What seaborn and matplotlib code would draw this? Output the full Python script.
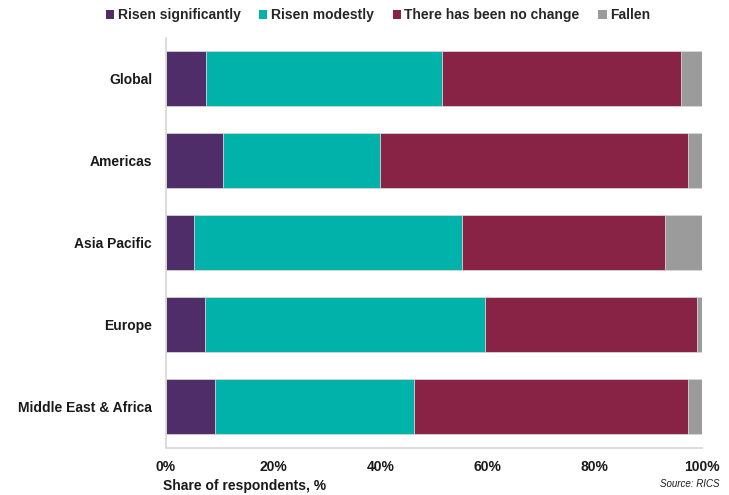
import matplotlib
matplotlib.use("Agg")
import matplotlib.pyplot as plt
from matplotlib.patches import Patch
import numpy as np
import pandas as pd
import seaborn as sns

regions = ["Global", "Americas", "Asia Pacific", "Europe", "Middle East & Africa"]
series_names = ["Risen significantly", "Risen modestly", "There has been no change", "Fallen"]
risen_significantly = [7.5, 10.6, 5.2, 7.3, 9.2]
risen_modestly = [44.0, 29.3, 50.0, 52.3, 37.1]
no_change = [44.6, 57.4, 37.9, 39.5, 51.0]
fallen = [3.9, 2.7, 6.9, 0.9, 2.7]
colors = ["#4F2D69", "#00B2AA", "#882345", "#9B9B9C"]
x_ticks = [0, 20, 40, 60, 80, 100]
x_tick_labels = ["0%", "20%", "40%", "60%", "80%", "100%"]

sns.set_theme(style="white")
plt.rcParams["font.family"] = ["Liberation Sans", "DejaVu Sans"]

df = pd.DataFrame({
    "region": regions,
    series_names[0]: risen_significantly,
    series_names[1]: risen_modestly,
    series_names[2]: no_change,
    series_names[3]: fallen,
})
cum = df[series_names].cumsum(axis=1)

fig = plt.figure(figsize=(7.29, 4.95), dpi=100)
ax = fig.add_axes([166 / 729, 1 - 447.5 / 495, 536 / 729, 410 / 495])

# stacked bars: draw cumulative totals from the longest down
for name, color in reversed(list(zip(series_names, colors))):
    sns.barplot(x=cum[name], y=df["region"], orient="h", color=color,
                width=0.66, edgecolor="#D9D9D9", linewidth=0.6,
                saturation=1, ax=ax, order=regions)

ax.set_xlim(0, 100)
ax.set_ylim(4.5, -0.5)
ax.set_xticks(x_ticks)
ax.set_xticklabels(x_tick_labels, fontsize=10, fontweight="bold", color="#1A1A1A")
ax.tick_params(axis="x", pad=9, length=0)
ax.tick_params(axis="y", pad=10, length=0)
for lbl in ax.get_yticklabels():
    lbl.set_fontsize(10)
    lbl.set_fontweight("bold")
    lbl.set_color("#1A1A1A")
ax.set_ylabel("")
ax.set_xlabel("")

for side in ["top", "right"]:
    ax.spines[side].set_visible(False)
for side in ["left", "bottom"]:
    ax.spines[side].set_color("#D6D6D6")
    ax.spines[side].set_linewidth(1.2)

fig.text(163 / 729, 1 - 486 / 495, "Share of respondents, %", fontsize=10,
         fontweight="bold", color="#1A1A1A", ha="left", va="center")
fig.text(720 / 729, 1 - 484 / 495, "Source: RICS", fontsize=7,
         style="italic", color="#1A1A1A", ha="right", va="center")

handles = [Patch(facecolor=c, edgecolor="none") for c in colors]
fig.legend(handles, series_names, loc="center", bbox_to_anchor=(378 / 729, 1 - 15 / 495),
           ncol=4, frameon=False, handlelength=0.6, handleheight=0.6,
           handletextpad=0.25, columnspacing=1.35,
           prop={"size": 10, "weight": "bold"})

fig.savefig("out.png", dpi=100)
